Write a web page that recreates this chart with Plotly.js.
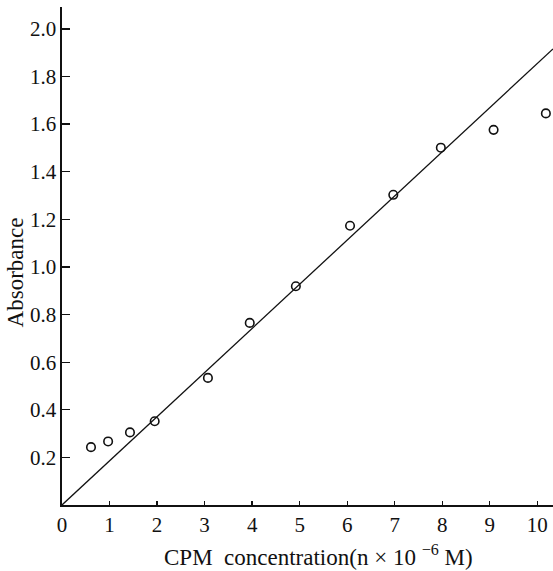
<!DOCTYPE html>
<html>
<head>
<meta charset="utf-8">
<script src="https://cdn.plot.ly/plotly-3.0.1.min.js"></script>
<style>
  html, body { margin: 0; padding: 0; background: #fff; }
  #chart { width: 553px; height: 571px; }
</style>
</head>
<body>
<div id="chart"></div>
<script>
// Measured absorbance at each CPM concentration (n x 10^-6 M)
const concentration = [0.61, 0.97, 1.43, 1.95, 3.07, 3.95, 4.92, 6.06, 6.97, 7.97, 9.08, 10.18];
const absorbance    = [0.243, 0.267, 0.305, 0.352, 0.534, 0.765, 0.919, 1.173, 1.303, 1.501, 1.576, 1.645];

// Calibration line through the origin
const fitX = [0, 10.33];
const fitY = [0, 1.916];

// Axis ticks
const xTicks = [0, 1, 2, 3, 4, 5, 6, 7, 8, 9, 10];
const yTicks = [0.2, 0.4, 0.6, 0.8, 1.0, 1.2, 1.4, 1.6, 1.8, 2.0];
const yTickText = ['0.2', '0.4', '0.6', '0.8', '1.0', '1.2', '1.4', '1.6', '1.8', '2.0'];

const xTitle = 'CPM  concentration(n × 10 <sup>−6</sup> M)';
const yTitle = 'Absorbance';

const serif = '"Liberation Serif", "DejaVu Serif", serif';

const traces = [
  {
    x: fitX, y: fitY,
    type: 'scatter', mode: 'lines',
    line: { color: '#111', width: 1.3 },
    hoverinfo: 'skip'
  },
  {
    x: concentration, y: absorbance,
    type: 'scatter', mode: 'markers',
    marker: {
      symbol: 'circle-open', size: 8.5,
      color: '#111', line: { color: '#111', width: 1.6 }
    }
  }
];

const layout = {
  width: 553, height: 571,
  margin: { l: 62, r: 0, t: 7, b: 66 },
  paper_bgcolor: '#fff', plot_bgcolor: '#fff',
  showlegend: false,
  font: { family: serif, size: 22, color: '#111' },
  xaxis: {
    range: [0, 10.33],
    tickvals: xTicks,
    ticks: 'inside', ticklen: 4, tickwidth: 1.3, tickcolor: '#111',
    showline: true, linecolor: '#111', linewidth: 1.6,
    showgrid: false, zeroline: false,
    tickfont: { family: serif, size: 21, color: '#111' }
  },
  yaxis: {
    range: [0, 2.092],
    tickvals: yTicks, ticktext: yTickText,
    ticks: 'inside', ticklen: 8, tickwidth: 1.3, tickcolor: '#111',
    showline: true, linecolor: '#111', linewidth: 1.6,
    showgrid: false, zeroline: false,
    tickfont: { family: serif, size: 21, color: '#111' }
  },
  annotations: [
    {
      text: xTitle, showarrow: false,
      xref: 'paper', yref: 'paper', x: 0.523, y: 0,
      xanchor: 'center', yanchor: 'middle', yshift: -50,
      font: { family: serif, size: 23, color: '#111' }
    },
    {
      text: yTitle, showarrow: false, textangle: -90,
      xref: 'paper', yref: 'paper', x: 0, y: 0.467,
      xanchor: 'center', yanchor: 'middle', xshift: -47,
      font: { family: serif, size: 23, color: '#111' }
    }
  ]
};

Plotly.newPlot('chart', traces, layout, { displayModeBar: false, staticPlot: true });
</script>
</body>
</html>
